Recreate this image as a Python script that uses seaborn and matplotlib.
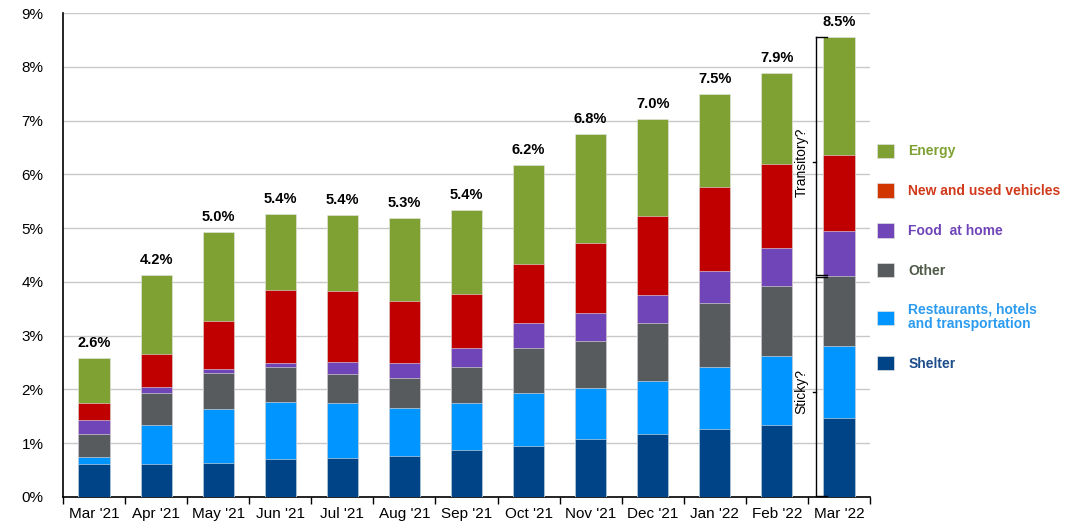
import pandas as pd
import matplotlib.pyplot as plt
import seaborn as sns
from matplotlib.patches import Patch

months = ["Mar '21", "Apr '21", "May '21", "Jun '21", "Jul '21", "Aug '21", "Sep '21",
          "Oct '21", "Nov '21", "Dec '21", "Jan '22", "Feb '22", "Mar '22"]
headline = ["2.6%", "4.2%", "5.0%", "5.4%", "5.4%", "5.3%", "5.4%",
            "6.2%", "6.8%", "7.0%", "7.5%", "7.9%", "8.5%"]

# contributions to CPI inflation, percentage points (bottom -> top)
shelter = [0.61, 0.61, 0.64, 0.71, 0.72, 0.76, 0.88, 0.95, 1.07, 1.17, 1.26, 1.34, 1.47]
restaurants = [0.13, 0.73, 0.99, 1.06, 1.03, 0.90, 0.87, 0.99, 0.96, 0.99, 1.15, 1.29, 1.34]
other = [0.43, 0.60, 0.68, 0.64, 0.54, 0.56, 0.66, 0.84, 0.88, 1.07, 1.19, 1.29, 1.30]
food = [0.26, 0.11, 0.07, 0.08, 0.23, 0.27, 0.37, 0.45, 0.52, 0.52, 0.61, 0.71, 0.83]
vehicles = [0.31, 0.61, 0.89, 1.36, 1.31, 1.16, 1.00, 1.11, 1.29, 1.48, 1.55, 1.57, 1.43]
energy = [0.85, 1.46, 1.66, 1.41, 1.41, 1.54, 1.55, 1.83, 2.03, 1.80, 1.74, 1.68, 2.18]

series = ["Shelter", "Restaurants, hotels\nand transportation", "Other",
          "Food  at home", "New and used vehicles", "Energy"]
values = [shelter, restaurants, other, food, vehicles, energy]
bar_colors = ["#004488", "#0095FF", "#585B5E", "#7045B8", "#C00000", "#7FA133"]
text_colors = ["#1F4E8C", "#2B9BF0", "#4F5A48", "#7045B8", "#D03A1A", "#7FA133"]
patch_colors = ["#004488", "#0095FF", "#585B5E", "#7045B8", "#D23600", "#7FA133"]

df = pd.DataFrame({"month": months})
cum = [0.0] * len(months)
for name, vals in zip(series, values):
    cum = [c + v for c, v in zip(cum, vals)]
    df[name] = cum

plt.rcParams["font.family"] = ["Liberation Sans", "DejaVu Sans"]

fig, ax = plt.subplots(figsize=(10.76, 5.27), dpi=100)
fig.subplots_adjust(left=0.0585, right=0.8086, bottom=0.057, top=0.975)

# draw cumulative totals from the top layer down so they stack visually
for name, col in reversed(list(zip(series, bar_colors))):
    sns.barplot(data=df, x="month", y=name, color=col, saturation=1, width=0.5,
                errorbar=None, edgecolor="#E8E8E8", linewidth=0.4, ax=ax, zorder=3)

totals = df[series[-1]]
for i, (t, lab) in enumerate(zip(totals, headline)):
    ax.text(i, t + 0.15, lab, ha="center", va="bottom", fontsize=10.5, fontweight="bold")

ax.set_ylim(0, 9)
ax.set_xlim(-0.5, len(months) - 0.5)
ax.set_yticks(range(0, 10))
ax.set_yticklabels([f"{v}%" for v in range(0, 10)], fontsize=11)
ax.set_xlabel("")
ax.set_ylabel("")
ax.tick_params(axis="x", length=0, labelsize=11, pad=7)
ax.tick_params(axis="y", length=0, pad=14)
ax.set_xticks([i - 0.5 for i in range(len(months) + 1)], minor=True)
ax.tick_params(axis="x", which="minor", length=5, width=1, direction="out")
ax.grid(axis="y", color="#C8C8C8", linewidth=1, zorder=0)
ax.set_axisbelow(True)
for s in ["top", "right"]:
    ax.spines[s].set_visible(False)
for s in ["left", "bottom"]:
    ax.spines[s].set_color("black")
    ax.spines[s].set_linewidth(1.2)

# transitory / sticky brackets next to the last bar
last = len(months) - 1
top_t = df[series[-1]].iloc[last]
mid_t = df["Other"].iloc[last]
bx, tx = last - 0.37, last - 0.19
kw = dict(color="black", linewidth=1, clip_on=False, zorder=5)
ax.plot([bx, bx], [0.02, mid_t - 0.02], **kw)
ax.plot([bx, bx], [mid_t + 0.02, top_t], **kw)
for yy in [0.02, mid_t - 0.02, mid_t + 0.02, top_t]:
    ax.plot([bx, tx], [yy, yy], **kw)
ax.plot([bx - 0.05, bx], [(mid_t + top_t) / 2 - 0.1] * 2, **kw)
ax.plot([bx - 0.05, bx], [mid_t / 2 - 0.1] * 2, **kw)
ax.text(bx - 0.23, (mid_t + top_t) / 2 - 0.1, "Transitory?", rotation=90, ha="center",
        va="center", fontsize=10)
ax.text(bx - 0.23, mid_t / 2 - 0.1, "Sticky?", rotation=90, ha="center",
        va="center", fontsize=10)

handles = [Patch(facecolor=c, edgecolor="#E0E0E0", linewidth=0.5)
           for c in reversed(patch_colors)]
leg = fig.legend(handles, list(reversed(series)), loc="center left",
                 bbox_to_anchor=(0.815, 0.512), frameon=False, fontsize=10,
                 handlelength=1.2, handleheight=1.2, handletextpad=1.05,
                 labelspacing=1.8, borderpad=0, borderaxespad=0,
                 labelcolor=list(reversed(text_colors)))
for t in leg.get_texts():
    t.set_fontweight("bold")
    t.set_linespacing(1.0)

plt.savefig("out.png", dpi=100)
plt.close()
